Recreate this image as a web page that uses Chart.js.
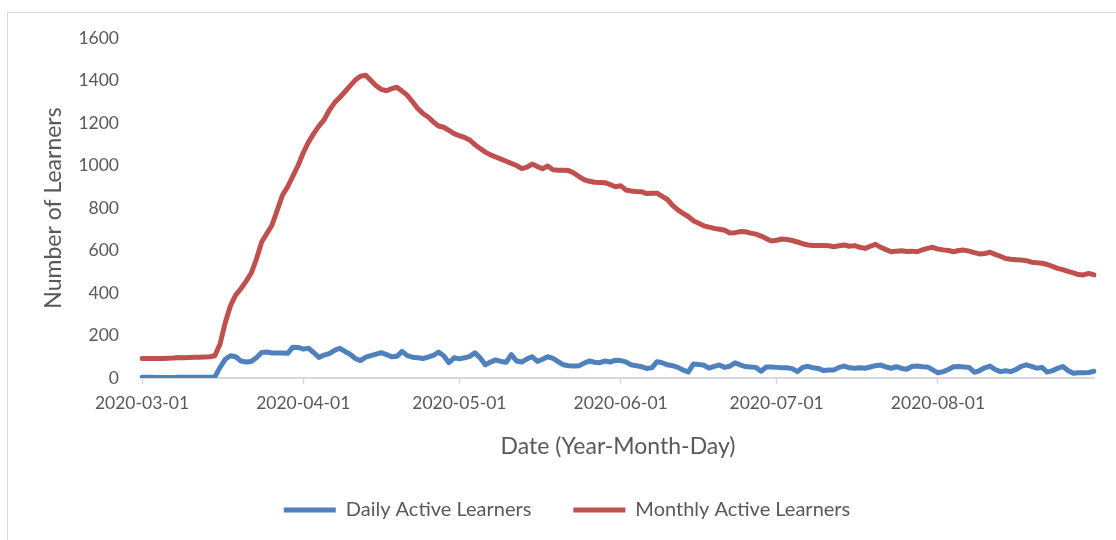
<!DOCTYPE html>
<html>
<head>
<meta charset="utf-8">
<script src="https://cdn.jsdelivr.net/npm/chart.js@4.4.1/dist/chart.umd.min.js"></script>
<style>
  html, body { margin: 0; padding: 0; background: #fff; overflow: hidden; }
  #wrap { position: relative; width: 1116px; height: 540px; }
  #frame { position: absolute; left: 7px; top: 12px; width: 1200px; height: 600px; border: 1.5px solid #d9d9d9; box-sizing: border-box; }
  #myChart { position: absolute; left: 0; top: 0; }
</style>
</head>
<body>
<div id="wrap">
  <div id="frame"></div>
  <canvas id="myChart" width="1116" height="540"></canvas>
</div>
<script>
// daily values, 2020-03-01 .. 2020-08-31
const startDate = "2020-03-01";
const dayCount = 184;

const dailyActive = [
  3, 3, 3, 2, 2, 2, 2, 3, 3, 3, 3, 3, 4, 4, 5,
  50, 88, 105, 100, 80, 75, 78, 95, 120, 122, 118, 118, 118, 116, 145, 144,
  136, 140, 120, 97, 108, 115, 130, 140, 125, 112, 92, 82, 98, 105, 112,
  119, 110, 100, 102, 125, 105, 98, 95, 92, 98, 106, 122, 105, 72, 95,
  90, 95, 102, 118, 95, 62, 75, 85, 78, 74, 110, 80, 75, 90, 100,
  78, 88, 100, 92, 77, 62, 58, 56, 58, 70, 80, 74, 72, 80, 75, 84,
  82, 76, 62, 58, 53, 45, 48, 77, 72, 62, 58, 50, 38, 28, 66,
  64, 60, 47, 55, 61, 50, 55, 72, 62, 54, 52, 50, 32, 52, 52,
  50, 48, 48, 44, 30, 50, 55, 48, 45, 35, 38, 38, 50, 56, 48,
  46, 48, 46, 52, 58, 61, 52, 46, 53, 45, 41, 54, 56, 53, 52, 38,
  24, 30, 40, 53, 54, 52, 50, 27, 35, 48, 56, 40, 30, 34, 30,
  40, 55, 62, 55, 46, 50, 28, 35, 45, 54, 35, 22, 25, 25, 26, 32
];

const monthlyActive = [
  92, 92, 92, 92, 92, 93, 94, 96, 95, 97, 98, 98, 99, 100, 105,
  160, 260, 340, 390, 420, 455, 494, 560, 640, 680, 720, 790, 860, 900, 950, 1000,
  1060, 1110, 1150, 1185, 1215, 1260, 1295, 1320, 1347, 1375, 1402, 1420, 1425, 1400, 1375,
  1358, 1352, 1362, 1368, 1350, 1330, 1300, 1268, 1245, 1228, 1205, 1186, 1180, 1165, 1150,
  1140, 1132, 1120, 1098, 1080, 1063, 1050, 1040, 1030, 1020, 1010, 1000, 985, 992, 1007,
  995, 985, 998, 980, 978, 978, 976, 965, 948, 933, 926, 921, 920, 919, 910, 900,
  905, 885, 880, 878, 877, 868, 869, 870, 855, 840, 812, 791, 775, 760, 740,
  728, 716, 710, 704, 700, 695, 682, 684, 689, 688, 682, 677, 668, 656, 645,
  648, 654, 652, 647, 640, 632, 626, 624, 624, 623, 622, 618, 622, 626, 620,
  623, 615, 610, 620, 629, 615, 604, 594, 597, 599, 595, 597, 594, 603, 610, 615,
  607, 603, 600, 594, 600, 602, 597, 590, 584, 586, 592, 582, 573, 562, 559,
  557, 555, 552, 545, 542, 540, 534, 525, 516, 510, 502, 495, 487, 485, 492, 485
];

const yTicks = [0, 200, 400, 600, 800, 1000, 1200, 1400, 1600];

// build the date categories
const dates = [];
for (let i = 0; i < dayCount; i++) {
  const d = new Date(startDate + "T00:00:00Z");
  d.setUTCDate(d.getUTCDate() + i);
  dates.push(d.toISOString().slice(0, 10));
}

const textColor = "#595959";
const fontFamily = "Lato, 'Open Sans', sans-serif";

// legend padding also sets the gap between items, so pin its height
const legendHeight = {
  id: "legendHeight",
  beforeInit(chart) {
    const fit = chart.legend.fit;
    chart.legend.fit = function () {
      fit.call(this);
      this.height = 68;
    };
  },
};

const data = {
  labels: dates,
  datasets: [
    {
      label: "Daily Active Learners",
      data: dailyActive,
      borderColor: "#4F81BD",
      backgroundColor: "#4F81BD",
      borderWidth: 5,
    },
    {
      label: "Monthly Active Learners",
      data: monthlyActive,
      borderColor: "#C0504D",
      backgroundColor: "#C0504D",
      borderWidth: 5,
    },
  ],
};

const config = {
  type: "line",
  data: data,
  plugins: [legendHeight],
  options: {
    responsive: false,
    animation: false,
    layout: { padding: { left: 40, top: 38, right: 22, bottom: 14 } },
    elements: {
      point: { radius: 0 },
      line: { tension: 0, borderCapStyle: "round", borderJoinStyle: "round" },
    },
    plugins: {
      tooltip: { enabled: false },
      legend: {
        position: "bottom",
        labels: {
          usePointStyle: true,
          pointStyle: "line",
          pointStyleWidth: 52,
          boxHeight: 5,
          padding: 42,
          color: textColor,
          font: { family: fontFamily, size: 20 },
        },
      },
    },
    scales: {
      x: {
        type: "category",
        grid: {
          drawOnChartArea: false,
          tickColor: "#d9d9d9",
          tickLength: 6,
          tickWidth: 1.5,
        },
        border: { color: "#d9d9d9", width: 2 },
        ticks: {
          autoSkip: false,
          maxRotation: 0,
          padding: 9,
          color: textColor,
          font: { family: fontFamily, size: 17.5 },
          callback: (v, i) => (dates[i].endsWith("-01") ? dates[i] : null),
        },
        title: {
          display: true,
          text: "Date (Year-Month-Day)",
          color: textColor,
          font: { family: fontFamily, size: 23 },
          padding: { top: 4, bottom: -2 },
        },
        afterFit: (s) => { s.height = 80; },
      },
      y: {
        min: 0,
        max: 1600,
        grid: { display: false, drawTicks: false },
        border: { display: false },
        afterBuildTicks: (s) => { s.ticks = yTicks.map((v) => ({ value: v })); },
        ticks: {
          padding: 23,
          color: textColor,
          font: { family: fontFamily, size: 17.5 },
          callback: (v) => String(v),
        },
        title: {
          display: true,
          text: "Number of Learners",
          color: textColor,
          font: { family: fontFamily, size: 23 },
          padding: { top: 0, bottom: 4 },
        },
        afterFit: (s) => { s.width = 102; },
      },
    },
  },
};

var myChart = new Chart(document.getElementById("myChart"), config);
</script>
</body>
</html>
